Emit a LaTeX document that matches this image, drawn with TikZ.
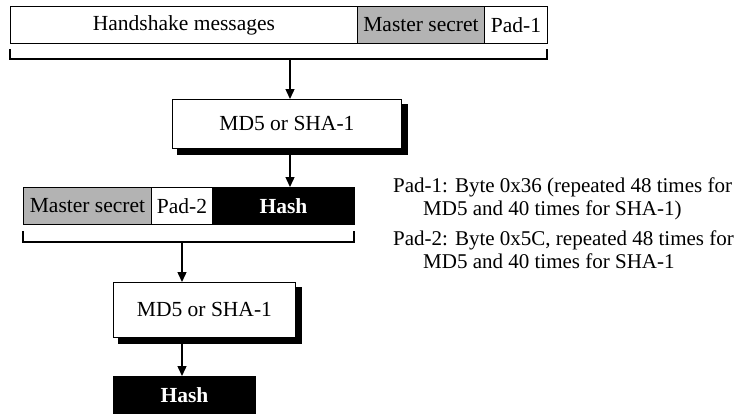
\documentclass[tikz,border=0pt]{standalone}
\usepackage{fontspec}
\setmainfont{Liberation Serif}
\usetikzlibrary{arrows.meta}
\definecolor{graybox}{HTML}{B3B3B3}
\begin{document}
\begin{tikzpicture}[x=1pt,y=-1pt,
  every node/.style={font=\fontsize{21.5}{23}\selectfont},
  field/.style={draw=black,line width=0.9pt,inner sep=0pt,anchor=north west,minimum height=37pt},
  grayfield/.style={field,fill=graybox},
  blackfield/.style={field,fill=black,text=white,font=\fontsize{21.5}{23}\selectfont\bfseries},
  procbox/.style={draw=black,line width=0.9pt,fill=white,inner sep=0pt,anchor=north west},
  boxshadow/.style={fill=black,draw=black,line width=0.5pt},
  brace/.style={line width=1.8pt},
  flow/.style={line width=1.4pt,-{Triangle[width=9pt,length=10pt]}},
  note/.style={anchor=base west,inner sep=0pt,font=\fontsize{21}{23}\selectfont}]
\useasboundingbox (0,0) rectangle (737,415);
% top bar
\node[field,minimum width=347pt] (hs) at (10,6) {Handshake messages};
\node[grayfield,minimum width=127pt] (ms1) at (357,6) {Master secret};
\node[field,minimum width=63pt] (pad1) at (484,6) {Pad-1};
% brace 1
\coordinate (b1l) at (10,49);
\coordinate (b1r) at (547,49);
\coordinate (b1m) at (290,59);
\draw[brace] (b1l) -- (10,59) -- (547,59) -- (b1r);
% box 1
\node[procbox,minimum width=229pt,minimum height=49pt] (md1) at (172,99) {MD5 or SHA-1};
\fill[boxshadow] ([yshift=-5pt]md1.north east) -- ([xshift=5pt,yshift=-5pt]md1.north east)
  -- ([xshift=5pt,yshift=-5pt]md1.south east) -- ([xshift=5pt,yshift=-5pt]md1.south west)
  -- ([xshift=5pt]md1.south west) -- (md1.south east) -- cycle;
\draw[flow] (b1m) -- (b1m |- md1.north);
% second bar
\node[grayfield,minimum width=128pt] (ms2) at (23,187) {Master secret};
\node[field,minimum width=61pt] (pad2) at (151,187) {Pad-2};
\node[blackfield,minimum width=142pt] (hash1) at (212,187) {Hash};
\coordinate (a2s) at (290,153);
\draw[flow] (a2s) -- (a2s |- hash1.north);
% brace 2
\coordinate (b2l) at (23,231);
\coordinate (b2r) at (354,231);
\coordinate (b2m) at (182,242);
\draw[brace] (b2l) -- (23,242) -- (354,242) -- (b2r);
% box 2
\node[procbox,minimum width=182pt,minimum height=55pt] (md2) at (113,282) {MD5 or SHA-1};
\fill[boxshadow] ([yshift=-5pt]md2.north east) -- ([xshift=5pt,yshift=-5pt]md2.north east)
  -- ([xshift=5pt,yshift=-5pt]md2.south east) -- ([xshift=5pt,yshift=-5pt]md2.south west)
  -- ([xshift=5pt]md2.south west) -- (md2.south east) -- cycle;
\draw[flow] (b2m) -- (b2m |- md2.north);
% final hash
\node[blackfield,minimum width=142pt] (hash2) at (113,376) {Hash};
\coordinate (a4s) at (182,342);
\draw[flow] (a4s) -- (a4s |- hash2.north);
% notes
\node[note] (n1) at (393,192) {Pad-1: Byte 0x36 (repeated 48 times for};
\node[note] (n2) at (423,215) {MD5 and 40 times for SHA-1)};
\node[note] (n3) at (393,245) {Pad-2: Byte 0x5C, repeated 48 times for};
\node[note] (n4) at (423,268) {MD5 and 40 times for SHA-1};
\end{tikzpicture}
\end{document}
